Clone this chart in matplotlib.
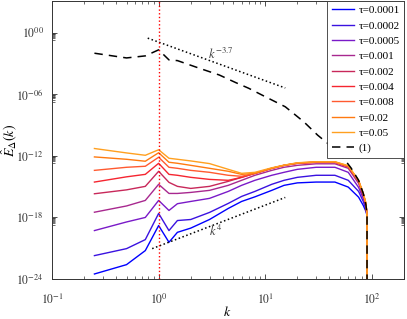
import numpy as np
import matplotlib
matplotlib.use("Agg")
import matplotlib.pyplot as plt
from matplotlib.ticker import FixedLocator, NullFormatter

plt.rcParams['font.family'] = ['Liberation Serif', 'DejaVu Serif']
plt.rcParams['mathtext.fontset'] = 'stix'

# wavenumbers of the sampled spectra (last point = cut-off drop)
k = [0.25, 0.5, 0.75, 1, 1.25, 1.5, 2, 3, 4.5, 6, 8, 11.5, 15, 20, 30, 45, 60, 75, 83, 88, 90, 90]

taus = ["0.0001", "0.0002", "0.0005", "0.001", "0.002", "0.004", "0.008", "0.02", "0.05"]
colors = ["#0000ff", "#3a12e0", "#7a1ac8", "#a8288f", "#c8285a",
          "#f52530", "#ff5a30", "#ff7a10", "#ffa020"]

# log10 of E(k) for each tau
logE_0001 = [-23.51, -22.60, -21.23, -18.79, -20.42, -19.45, -19.04, -18.20, -17.12, -16.44, -15.99,
             -15.36, -14.87, -14.63, -14.55, -14.55, -15.04, -16.02, -16.83, -17.42, -17.81, -30]
logE_0002 = [-21.72, -21.04, -20.16, -17.61, -19.28, -18.30, -18.20, -17.51, -16.63, -15.95, -15.46,
             -14.77, -14.38, -14.09, -13.89, -13.89, -14.38, -15.46, -16.44, -17.22, -17.81, -30]
logE_0005 = [-19.28, -18.44, -18.00, -16.34, -17.32, -16.66, -16.44, -16.14, -15.46, -14.87, -14.38,
             -13.89, -13.60, -13.31, -13.11, -13.11, -13.60, -15.07, -16.14, -17.03, -17.81, -30]
logE_001 = [-17.49, -16.88, -16.34, -14.77, -15.66, -15.66, -15.56, -15.36, -14.87, -14.38, -13.89,
            -13.41, -13.11, -12.92, -12.77, -12.77, -13.21, -14.68, -15.95, -16.83, -17.81, -30]
logE_002 = [-15.69, -15.31, -14.97, -13.50, -14.58, -14.97, -15.17, -14.97, -14.48, -14.09, -13.70,
            -13.21, -12.92, -12.72, -12.62, -12.62, -13.06, -14.48, -15.75, -16.73, -17.81, -30]
logE_004 = [-14.55, -14.04, -13.80, -12.72, -13.80, -13.89, -14.09, -14.29, -14.38, -14.09, -13.70,
            -13.21, -12.92, -12.72, -12.62, -12.62, -13.06, -14.48, -15.75, -16.73, -17.81, -30]
logE_008 = [-13.41, -13.11, -13.01, -12.13, -13.11, -13.21, -13.41, -13.60, -13.89, -13.99, -13.70,
            -13.21, -12.92, -12.72, -12.60, -12.60, -13.01, -14.43, -15.70, -16.68, -17.81, -30]
logE_02 = [-12.10, -12.33, -12.52, -11.69, -12.62, -12.72, -12.92, -13.21, -13.50, -13.80, -13.70,
           -13.21, -12.92, -12.69, -12.58, -12.58, -12.99, -14.40, -15.67, -16.65, -17.81, -30]
logE_05 = [-11.28, -11.71, -11.94, -11.40, -12.23, -12.33, -12.49, -12.75, -13.31, -13.70, -13.60,
           -13.16, -12.90, -12.67, -12.57, -12.57, -12.95, -14.38, -15.66, -16.63, -17.81, -30]
spectra = [logE_0001, logE_0002, logE_0005, logE_001, logE_002,
           logE_004, logE_008, logE_02, logE_05]

# reference spectrum (1)
k_ref = [0.25, 0.5, 0.75, 1, 1.25, 1.5, 2.4, 3.7, 5.3, 7, 10, 15.4, 23, 31, 50, 64, 75, 83, 88, 90, 90]
logE_ref = [-1.99, -2.45, -2.25, -1.66, -2.64, -2.71, -3.45, -4.11, -4.86, -5.41, -6.23, -7.21,
            -8.68, -9.98, -11.74, -13.2, -14.38, -15.66, -16.8, -17.81, -30]

# guide lines (end points)
k_steep = [0.79, 15.4]
logE_steep = [-0.52, -5.38]
k_k4 = [0.87, 15.4]
logE_k4 = [-21.04, -16.05]

fig = plt.figure(figsize=(4.07, 3.19), dpi=100)
ax = fig.add_axes([52/407, 40/319, 352/407, 278/319])

for tau, c, lE in zip(taus, colors, spectra):
    ax.plot(k, 10**np.array(lE), color=c, lw=1.0, label="τ=" + tau)

ax.plot(k_ref, 10**np.array(logE_ref), color='k', ls='--', dashes=(5.5, 4), lw=1.1, label="(1)")
ax.plot(k_steep, 10**np.array(logE_steep), color='k', ls=':', lw=1.1)
ax.plot(k_k4, 10**np.array(logE_k4), color='k', ls=':', lw=1.1)
ax.axvline(1, color='red', ls=':', lw=1.0)

ax.text(2.9, 10**-2.1, r'$k^{-3.7}$', fontsize=9, color='#404040', ha='left', va='center')
ax.text(2.95, 10**-19.4, r'$k^{4}$', fontsize=9, color='#404040', ha='left', va='center')

ax.set_xscale('log')
ax.set_yscale('log')
ax.set_xlim(0.1, 200)
ax.set_ylim(1e-24, 10**3.1)

yt = [1e-24, 1e-18, 1e-12, 1e-6, 1e0]
ytl = [r'$\mathit{10^{-24}}$', r'$\mathit{10^{-18}}$', r'$\mathit{10^{-12}}$',
       r'$\mathit{10^{-06}}$', r'$\mathit{10^{00}}$']
ax.yaxis.set_major_locator(FixedLocator(yt))
ax.set_yticklabels(ytl)
ymin = [m * 10**(e - 1) for e in [0, -6, -12, -18] for m in range(2, 10)]
ax.yaxis.set_minor_locator(FixedLocator(ymin))
ax.yaxis.set_minor_formatter(NullFormatter())

xt = [0.1, 1, 10, 100]
xtl = [r'$\mathit{10^{-1}}$', r'$\mathit{10^{0}}$', r'$\mathit{10^{1}}$', r'$\mathit{10^{2}}$']
ax.xaxis.set_major_locator(FixedLocator(xt))
ax.set_xticklabels(xtl)
xmin = [m * 10**e for e in [-1, 0, 1, 2] for m in range(2, 10)]
ax.xaxis.set_minor_locator(FixedLocator(xmin))
ax.xaxis.set_minor_formatter(NullFormatter())

ax.tick_params(which='both', direction='in', top=True, right=True, labelsize=8.5, colors='#333333')
ax.tick_params(which='major', length=3.5, width=0.6)
ax.tick_params(which='minor', length=2, width=0.5)
ax.tick_params(axis='x', pad=10)
ax.tick_params(axis='y', pad=6)
for s in ax.spines.values():
    s.set_color('#333333')
    s.set_linewidth(0.7)

ax.set_xlabel(r'$k$', fontsize=10)
ax.xaxis.set_label_coords((227 - 52) / 352, -(305 - 279) / 278)
ax.set_ylabel(r'$\hat{E}_{\Delta}(k)$', fontsize=10)
ax.yaxis.set_label_coords(-(52 - 19) / 352, (279 - 140) / 278)

leg = ax.legend(loc='upper right', bbox_to_anchor=(1, 1), borderaxespad=0, fontsize=8,
                handlelength=2.0, handletextpad=0.4, labelspacing=0.5, borderpad=0.4,
                fancybox=False, framealpha=1)
leg.get_frame().set_edgecolor('#333333')
leg.get_frame().set_linewidth(0.6)

fig.savefig("out.png", dpi=100)
